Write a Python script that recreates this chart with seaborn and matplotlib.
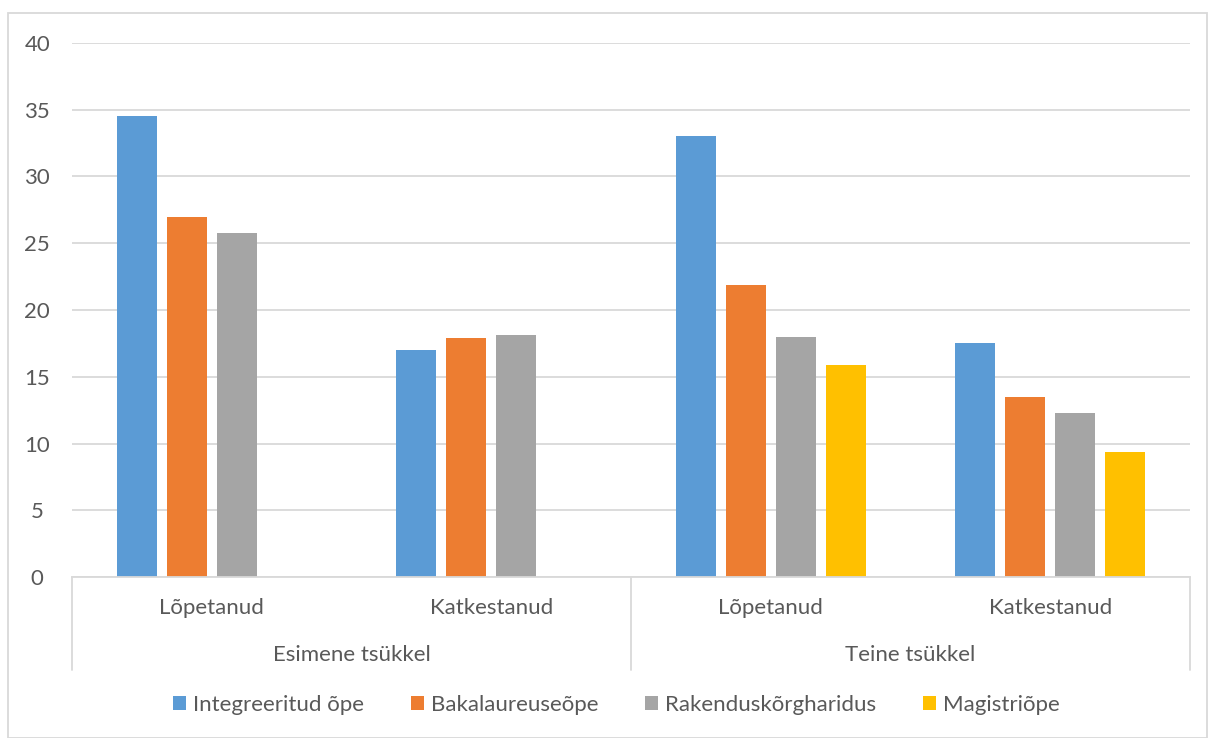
import numpy as np
import pandas as pd
import seaborn as sns
import matplotlib.pyplot as plt
import matplotlib.transforms as mtransforms
from matplotlib.patches import Rectangle

# chart data
groups = ["Esimene tsükkel", "Esimene tsükkel", "Teine tsükkel", "Teine tsükkel"]
categories = ["Lõpetanud", "Katkestanud", "Lõpetanud", "Katkestanud"]
series = ["Integreeritud õpe", "Bakalaureuseõpe", "Rakenduskõrgharidus", "Magistriõpe"]
integreeritud = [34.5, 17.0, 33.0, 17.5]
bakalaureus = [27.0, 17.9, 21.9, 13.5]
rakendus = [25.8, 18.1, 18.0, 12.3]
magister = [np.nan, np.nan, 15.9, 9.4]
colors = ["#5B9BD5", "#ED7D31", "#A5A5A5", "#FFC000"]

keys = [g + "|" + c for g, c in zip(groups, categories)]
rows = []
for name, vals in zip(series, [integreeritud, bakalaureus, rakendus, magister]):
    for k, v in zip(keys, vals):
        rows.append({"key": k, "series": name, "value": v})
df = pd.DataFrame(rows).dropna()

sns.set_style("white")
plt.rcParams['font.family'] = ['Lato', 'DejaVu Sans']
text_col = "#595959"
grid_col = "#D9D9D9"
fs = 16

fig = plt.figure(figsize=(12.08, 7.38), dpi=100)
ax = fig.add_axes([72 / 1208, 1 - 577 / 738, (1190 - 72) / 1208, (577 - 43) / 738])

sns.barplot(data=df, x="key", y="value", hue="series", order=keys, hue_order=series,
            palette=colors, width=0.716, gap=0.2, linewidth=0, saturation=1, ax=ax)

ax.set_xlim(-0.5, 3.5)
ax.set_ylim(0, 40)
ax.set_yticks(range(0, 41, 5))
ax.tick_params(axis="y", length=0, pad=25, labelsize=fs, labelcolor=text_col)
for t in ax.get_yticklabels():
    t.set_horizontalalignment("center")
ax.set_xticks([])
ax.set_xlabel("")
ax.set_ylabel("")
ax.yaxis.grid(True, color=grid_col, linewidth=1.3)
ax.set_axisbelow(True)
for s in ["left", "right", "top"]:
    ax.spines[s].set_visible(False)
ax.spines["bottom"].set_color(grid_col)
ax.spines["bottom"].set_linewidth(1.3)

# two level category axis
h = 534.0
trans = mtransforms.blended_transform_factory(ax.transData, ax.transAxes)
for i, c in enumerate(categories):
    ax.text(i, -31 / h, c, transform=trans, ha="center", va="center",
            fontsize=fs, color=text_col)
for gi, g in enumerate(["Esimene tsükkel", "Teine tsükkel"]):
    ax.text(0.5 + 2 * gi, -78 / h, g, transform=trans, ha="center", va="center",
            fontsize=fs, color=text_col)
for xb in [-0.5, 1.5, 3.5]:
    ax.plot([xb, xb], [0, -93 / h], transform=trans, color=grid_col,
            linewidth=1.3, clip_on=False)

# legend at the bottom
handles, labels = ax.get_legend_handles_labels()
ax.get_legend().remove()
fig.legend(handles, labels, loc="center", bbox_to_anchor=(0.51, 1 - 705 / 738),
           ncol=4, frameon=False, fontsize=fs, labelcolor=text_col,
           handlelength=0.6, handleheight=0.6, handletextpad=0.3,
           columnspacing=2.1)

# chart border
fig.patches.append(Rectangle((8 / 1208, 0), 1 - 9 / 1208, 1 - 13 / 738,
                             transform=fig.transFigure, fill=False,
                             edgecolor=grid_col, linewidth=1.3))

fig.savefig("out.png", dpi=100)
